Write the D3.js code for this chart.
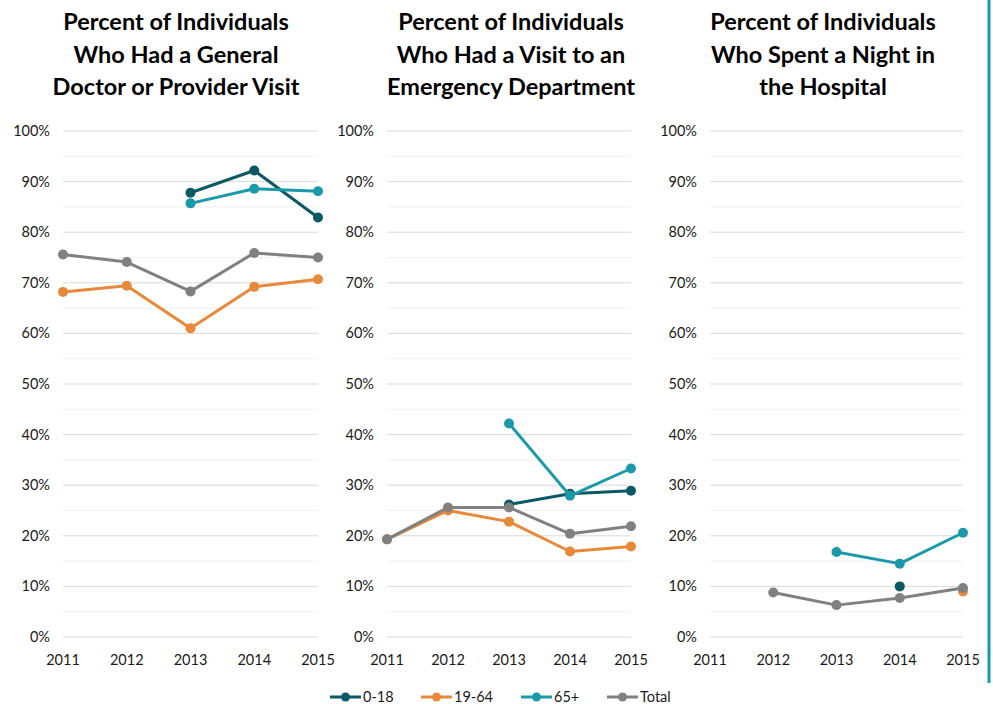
<!DOCTYPE html>
<html>
<head>
<meta charset="utf-8">
<script src="https://cdn.jsdelivr.net/npm/d3@7"></script>
<style>
  body { margin: 0; background: #fff; }
  svg text { font-family: Lato, "Open Sans", sans-serif; fill: #1a1a1a; }
  .title { font-weight: 700; font-size: 23.5px; fill: #000; }
  .tick-label { font-size: 14.5px; }
</style>
</head>
<body>
<div id="chart-container"><svg></svg></div>
<script>
const chartSize = {width: 993, height: 704};

const years = [2011, 2012, 2013, 2014, 2015];
const yTicks = [0, 10, 20, 30, 40, 50, 60, 70, 80, 90, 100];
const groups = ["0-18", "19-64", "65+", "Total"];
const groupColors = ["#0b5964", "#e8893a", "#1a9aa9", "#808080"];

const titles = [
  ["Percent of Individuals", "Who Had a General", "Doctor or Provider Visit"],
  ["Percent of Individuals", "Who Had a Visit to an", "Emergency Department"],
  ["Percent of Individuals", "Who Spent a Night in", "the Hospital"]
];

// null = no value for that year
const doctorVisit = [
  [null, null, 87.8, 92.2, 82.9],
  [68.2, 69.4, 61.0, 69.2, 70.7],
  [null, null, 85.7, 88.6, 88.1],
  [75.6, 74.1, 68.3, 75.9, 75.0]
];
const erVisit = [
  [null, null, 26.2, 28.3, 28.9],
  [19.3, 25.0, 22.8, 16.9, 17.9],
  [null, null, 42.2, 27.9, 33.3],
  [19.3, 25.6, 25.6, 20.4, 21.9]
];
const hospitalNight = [
  [null, null, null, 10.0, null],
  [null, null, null, null, 9.0],
  [null, null, 16.8, 14.5, 20.6],
  [null, 8.8, 6.3, 7.7, 9.7]
];
const panelData = [doctorVisit, erVisit, hospitalNight];

const panels = [
  {left: 63, right: 318, titleX: 176},
  {left: 387, right: 631, titleX: 511},
  {left: 710, right: 963, titleX: 823}
];
const plotTop = 131, plotBottom = 637;

const svg = d3.select("#chart-container svg")
  .attr("width", chartSize.width)
  .attr("height", chartSize.height);

const y = d3.scaleLinear().domain([0, 100]).range([plotBottom, plotTop]);

panels.forEach((p, pi) => {
  const g = svg.append("g");
  const x = d3.scalePoint().domain(years).range([p.left, p.right]);

  // minor gridlines at 5%
  g.selectAll(".minor")
    .data(d3.range(5, 100, 10))
    .join("line")
    .attr("x1", p.left).attr("x2", p.right)
    .attr("y1", d => y(d)).attr("y2", d => y(d))
    .attr("stroke", "#f0f0f0").attr("stroke-width", 1);

  g.selectAll(".major")
    .data(yTicks)
    .join("line")
    .attr("x1", p.left).attr("x2", p.right)
    .attr("y1", d => y(d)).attr("y2", d => y(d))
    .attr("stroke", "#d9d9d9").attr("stroke-width", 1);

  g.selectAll(".ylab")
    .data(yTicks)
    .join("text")
    .attr("class", "tick-label")
    .attr("x", p.left - 13)
    .attr("y", d => y(d) + 5)
    .attr("text-anchor", "end")
    .text(d => d + "%");

  g.selectAll(".xlab")
    .data(years)
    .join("text")
    .attr("class", "tick-label")
    .attr("x", d => x(d))
    .attr("y", 665)
    .attr("text-anchor", "middle")
    .text(d => d);

  g.append("text")
    .attr("class", "title")
    .attr("text-anchor", "middle")
    .selectAll("tspan")
    .data(titles[pi])
    .join("tspan")
    .attr("x", p.titleX)
    .attr("y", (d, i) => 30 + i * 32.5)
    .text(d => d);

  const line = d3.line()
    .defined(d => d != null)
    .x((d, i) => x(years[i]))
    .y(d => y(d));

  panelData[pi].forEach((vals, gi) => {
    g.append("path")
      .attr("d", line(vals))
      .attr("fill", "none")
      .attr("stroke", groupColors[gi])
      .attr("stroke-width", 3)
      .attr("stroke-linejoin", "round");
    g.selectAll(null)
      .data(vals.map((v, i) => ({v, yr: years[i]})).filter(d => d.v != null))
      .join("circle")
      .attr("cx", d => x(d.yr))
      .attr("cy", d => y(d.v))
      .attr("r", 5)
      .attr("fill", groupColors[gi]);
  });
});

// legend
const legendX = [330, 421, 521, 607];
const legend = svg.append("g");
groups.forEach((name, i) => {
  const lg = legend.append("g").attr("transform", `translate(${legendX[i]},697)`);
  lg.append("line").attr("x1", 0).attr("x2", 31)
    .attr("stroke", groupColors[i]).attr("stroke-width", 3);
  lg.append("circle").attr("cx", 15.5).attr("r", 4.5).attr("fill", groupColors[i]);
  lg.append("text").attr("class", "tick-label")
    .attr("x", 33).attr("y", 5).text(name);
});

// right border
svg.append("line")
  .attr("x1", 989).attr("x2", 989)
  .attr("y1", 0).attr("y2", 683)
  .attr("stroke", "#1a9aa9").attr("stroke-width", 3);
</script>
</body>
</html>
